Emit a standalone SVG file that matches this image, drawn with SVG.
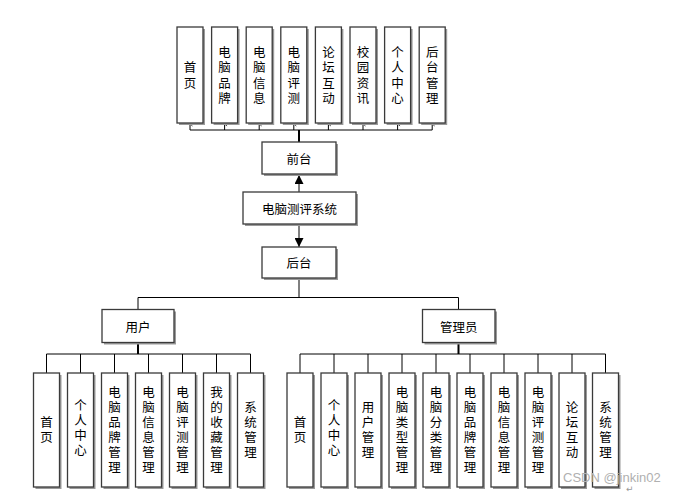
<svg xmlns="http://www.w3.org/2000/svg" width="677" height="494" viewBox="0 0 677 494">
<style>
.box{fill:#fff;stroke:#3a3a3a;stroke-width:1.3}
.sh{fill:#9a9a9a}
.t{font-family:"Noto Sans CJK SC","Noto Sans",sans-serif;font-size:12.5px;fill:#000;text-anchor:middle;dominant-baseline:central}
.v{font-family:"Noto Sans CJK SC","Noto Sans",sans-serif;font-size:12.5px;fill:#000;text-anchor:middle;writing-mode:vertical-rl;text-orientation:upright;letter-spacing:2.5px}
.vt{letter-spacing:3px}
.ln{stroke:#000;stroke-width:1;fill:none}
.lnb{stroke:#000;stroke-width:2;fill:none}
.wm{font-family:"Liberation Sans",Arial,sans-serif;font-size:13px;fill:#b0b0b0}
</style>
<defs>
<marker id="open" viewBox="0 0 10 10" refX="5" refY="1" markerWidth="5" markerHeight="5" orient="auto-start-reverse" markerUnits="userSpaceOnUse">
<path d="M1,6 L5,1 L9,6" fill="none" stroke="#000" stroke-width="1.4"/>
</marker>
<marker id="fill" viewBox="0 0 10 10" refX="10" refY="5" markerWidth="9" markerHeight="9" orient="auto" markerUnits="userSpaceOnUse">
<path d="M0,0 L10,5 L0,10 Z" fill="#000"/>
</marker>
</defs>

<g id="connectors">
<path class="lnb" d="M299,142 V130"/>
<path class="ln" d="M190,130 H432.2"/>
<path class="ln" marker-end="url(#open)" d="M190,130 V124"/>
<path class="ln" marker-end="url(#open)" d="M224.6,130 V124"/>
<path class="ln" marker-end="url(#open)" d="M259.2,130 V124"/>
<path class="ln" marker-end="url(#open)" d="M293.8,130 V124"/>
<path class="ln" marker-end="url(#open)" d="M328.4,130 V124"/>
<path class="ln" marker-end="url(#open)" d="M363,130 V124"/>
<path class="ln" marker-end="url(#open)" d="M397.6,130 V124"/>
<path class="ln" marker-end="url(#open)" d="M432.2,130 V124"/>
<path class="ln" marker-end="url(#fill)" d="M299,192 V175"/>
<path class="ln" marker-end="url(#fill)" d="M299,224 V247"/>
<path class="ln" d="M299,278 V297.5 M138,309.5 V297.5 H458.5 V309.5"/>
<path class="lnb" d="M138,342 V354"/>
<path class="ln" d="M46.5,354 H250.5 M46.5,354 V373 M80.5,354 V373 M114.5,354 V373 M148.5,354 V373 M182.5,354 V373 M216.5,354 V373 M250.5,354 V373"/>
<path class="lnb" d="M458.5,342 V354"/>
<path class="ln" d="M300,354 H605.5 M300,354 V373 M334,354 V373 M368,354 V373 M402,354 V373 M436,354 V373 M470,354 V373 M504,354 V373 M538,354 V373 M572,354 V373 M605.5,354 V373"/>
</g>

<g id="f1"><rect class="sh" x="179" y="29" width="26" height="96"/><rect class="box" x="177" y="27" width="26" height="96"/><text class="v vt" x="190" y="76.5">首页</text></g>
<g id="f2"><rect class="sh" x="213.6" y="29" width="26" height="96"/><rect class="box" x="211.6" y="27" width="26" height="96"/><text class="v vt" x="224.6" y="76.5">电脑品牌</text></g>
<g id="f3"><rect class="sh" x="248.2" y="29" width="26" height="96"/><rect class="box" x="246.2" y="27" width="26" height="96"/><text class="v vt" x="259.2" y="76.5">电脑信息</text></g>
<g id="f4"><rect class="sh" x="282.8" y="29" width="26" height="96"/><rect class="box" x="280.8" y="27" width="26" height="96"/><text class="v vt" x="293.8" y="76.5">电脑评测</text></g>
<g id="f5"><rect class="sh" x="317.4" y="29" width="26" height="96"/><rect class="box" x="315.4" y="27" width="26" height="96"/><text class="v vt" x="328.4" y="76.5">论坛互动</text></g>
<g id="f6"><rect class="sh" x="352" y="29" width="26" height="96"/><rect class="box" x="350" y="27" width="26" height="96"/><text class="v vt" x="363" y="76.5">校园资讯</text></g>
<g id="f7"><rect class="sh" x="386.6" y="29" width="26" height="96"/><rect class="box" x="384.6" y="27" width="26" height="96"/><text class="v vt" x="397.6" y="76.5">个人中心</text></g>
<g id="f8"><rect class="sh" x="421.2" y="29" width="26" height="96"/><rect class="box" x="419.2" y="27" width="26" height="96"/><text class="v vt" x="432.2" y="76.5">后台管理</text></g>

<g id="qiantai"><rect class="sh" x="264" y="144" width="74" height="32"/><rect class="box" x="262" y="142" width="74" height="32"/><text class="t" x="299" y="158">前台</text></g>
<g id="system"><rect class="sh" x="245" y="194" width="113" height="32"/><rect class="box" x="243" y="192" width="113" height="32"/><text class="t" x="299.5" y="208">电脑测评系统</text></g>
<g id="houtai"><rect class="sh" x="264" y="249" width="74" height="31"/><rect class="box" x="262" y="247" width="74" height="31"/><text class="t" x="299" y="262.5">后台</text></g>
<g id="user"><rect class="sh" x="104" y="311.5" width="72" height="33"/><rect class="box" x="102" y="309.5" width="72" height="33"/><text class="t" x="138" y="326">用户</text></g>
<g id="admin"><rect class="sh" x="424.5" y="311.5" width="72.5" height="33"/><rect class="box" x="422.5" y="309.5" width="72.5" height="33"/><text class="t" x="458.7" y="326">管理员</text></g>

<g id="u1"><rect class="sh" x="35.5" y="375" width="26" height="114"/><rect class="box" x="33.5" y="373" width="26" height="114"/><text class="v" x="46.5" y="430.5">首页</text></g>
<g id="u2"><rect class="sh" x="69.5" y="375" width="26" height="114"/><rect class="box" x="67.5" y="373" width="26" height="114"/><text class="v" x="80.5" y="428.5">个人中心</text></g>
<g id="u3"><rect class="sh" x="103.5" y="375" width="26" height="114"/><rect class="box" x="101.5" y="373" width="26" height="114"/><text class="v" x="114.5" y="430.5">电脑品牌管理</text></g>
<g id="u4"><rect class="sh" x="137.5" y="375" width="26" height="114"/><rect class="box" x="135.5" y="373" width="26" height="114"/><text class="v" x="148.5" y="430.5">电脑信息管理</text></g>
<g id="u5"><rect class="sh" x="171.5" y="375" width="26" height="114"/><rect class="box" x="169.5" y="373" width="26" height="114"/><text class="v" x="182.5" y="430.5">电脑评测管理</text></g>
<g id="u6"><rect class="sh" x="205.5" y="375" width="26" height="114"/><rect class="box" x="203.5" y="373" width="26" height="114"/><text class="v" x="216.5" y="430.5">我的收藏管理</text></g>
<g id="u7"><rect class="sh" x="239.5" y="375" width="26" height="114"/><rect class="box" x="237.5" y="373" width="26" height="114"/><text class="v" x="250.5" y="430.5">系统管理</text></g>

<g id="a1"><rect class="sh" x="289" y="375" width="26" height="114"/><rect class="box" x="287" y="373" width="26" height="114"/><text class="v" x="300" y="430.5">首页</text></g>
<g id="a2"><rect class="sh" x="323" y="375" width="26" height="114"/><rect class="box" x="321" y="373" width="26" height="114"/><text class="v" x="334" y="428.5">个人中心</text></g>
<g id="a3"><rect class="sh" x="357" y="375" width="26" height="114"/><rect class="box" x="355" y="373" width="26" height="114"/><text class="v" x="368" y="430.5">用户管理</text></g>
<g id="a4"><rect class="sh" x="391" y="375" width="26" height="114"/><rect class="box" x="389" y="373" width="26" height="114"/><text class="v" x="402" y="430.5">电脑类型管理</text></g>
<g id="a5"><rect class="sh" x="425" y="375" width="26" height="114"/><rect class="box" x="423" y="373" width="26" height="114"/><text class="v" x="436" y="430.5">电脑分类管理</text></g>
<g id="a6"><rect class="sh" x="459" y="375" width="26" height="114"/><rect class="box" x="457" y="373" width="26" height="114"/><text class="v" x="470" y="430.5">电脑品牌管理</text></g>
<g id="a7"><rect class="sh" x="493" y="375" width="26" height="114"/><rect class="box" x="491" y="373" width="26" height="114"/><text class="v" x="504" y="430.5">电脑信息管理</text></g>
<g id="a8"><rect class="sh" x="527" y="375" width="26" height="114"/><rect class="box" x="525" y="373" width="26" height="114"/><text class="v" x="538" y="430.5">电脑评测管理</text></g>
<g id="a9"><rect class="sh" x="561" y="375" width="26" height="114"/><rect class="box" x="559" y="373" width="26" height="114"/><text class="v" x="572" y="430.5">论坛互动</text></g>
<g id="a10"><rect class="sh" x="594.5" y="375" width="26" height="114"/><rect class="box" x="592.5" y="373" width="26" height="114"/><text class="v" x="605.5" y="430.5">系统管理</text></g>

<text class="wm" x="563" y="482">CSDN @jinkin02</text>
<text x="626" y="492" style="font-family:'DejaVu Sans',sans-serif;font-size:9px;fill:#999">↵</text>
</svg>
